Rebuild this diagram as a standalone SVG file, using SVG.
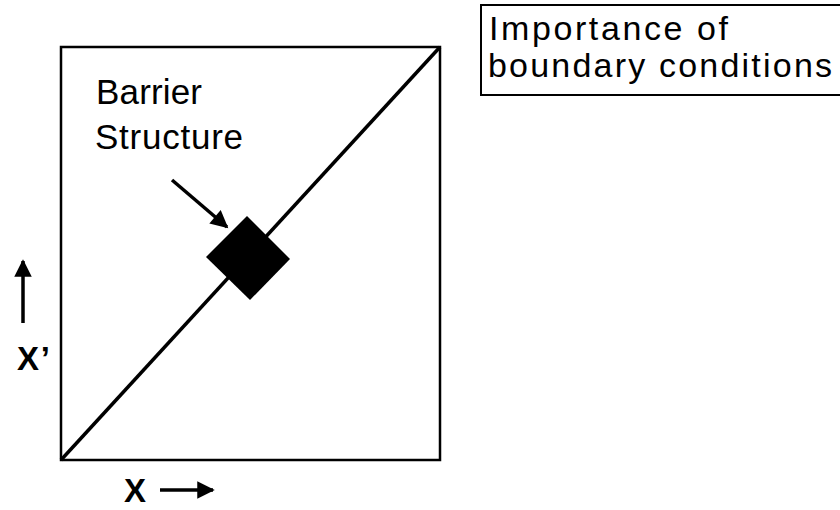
<svg xmlns="http://www.w3.org/2000/svg" width="840" height="510" viewBox="0 0 840 510">
<style>
.t{font-family:"Liberation Sans",Arial,sans-serif;font-size:35px;fill:#000}
.n{font-size:34px}
.b{font-weight:bold;font-size:33px}
.ln{stroke:#000;fill:none}
</style>
<defs>
<marker id="ah" viewBox="0 0 10 10" refX="9" refY="5" markerWidth="5.5" markerHeight="5" orient="auto" markerUnits="strokeWidth">
<path d="M0,0 L10,5 L0,10 z" fill="#000"/>
</marker>
</defs>
<rect width="840" height="510" fill="#fff"/>
<g id="plot">
<rect x="61" y="47" width="379" height="413" class="ln" stroke-width="2.5"/>
</g>
<g id="connectors">
<line x1="61" y1="460" x2="440" y2="47" class="ln" stroke-width="3.5"/>
<line x1="172" y1="180" x2="227" y2="227" class="ln" stroke-width="3.5" marker-end="url(#ah)"/>
<line x1="23" y1="323" x2="23" y2="261" class="ln" stroke-width="3.5" marker-end="url(#ah)"/>
<line x1="160" y1="490" x2="213" y2="490" class="ln" stroke-width="3.5" marker-end="url(#ah)"/>
</g>
<g id="barrier">
<polygon points="247,216 290,259 250,300 206,257" fill="#000"/>
</g>
<g id="labels">
<text class="t" x="96" y="104" textLength="106">Barrier</text>
<text class="t" x="95" y="149" textLength="148">Structure</text>
<text class="t b" x="17" y="370" textLength="33">X’</text>
<text class="t b" x="124" y="502" textLength="26">X</text>
</g>
<g id="note">
<rect x="481" y="5" width="370" height="90" class="ln" stroke-width="2"/>
<text class="t n" x="489" y="40" textLength="239">Importance of</text>
<text class="t n" x="488" y="77" textLength="344">boundary conditions</text>
</g>
</svg>
